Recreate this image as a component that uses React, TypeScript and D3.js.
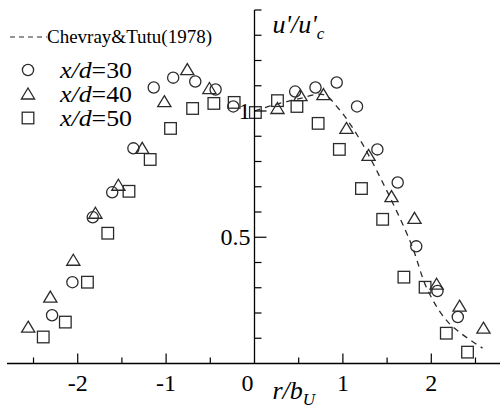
import React, { useEffect, useRef } from 'react';
import * as d3 from 'd3';

// r/b_U positions and u'/u'_c values
const X30 = [-2.29, -2.06, -1.83, -1.61, -1.37, -1.14, -0.92, -0.67, -0.44, -0.24, 0.46, 0.69, 0.93, 1.16, 1.39, 1.62, 1.83, 2.07, 2.3];
const Y30 = [0.191, 0.322, 0.579, 0.678, 0.852, 1.093, 1.132, 1.117, 1.085, 1.018, 1.077, 1.093, 1.113, 1.018, 0.848, 0.717, 0.464, 0.287, 0.184];

const X40 = [-2.56, -2.31, -2.05, -1.8, -1.54, -1.27, -1.02, -0.76, -0.51, 0.26, 0.52, 0.78, 1.04, 1.29, 1.55, 1.81, 2.06, 2.32, 2.59];
const Y40 = [0.144, 0.263, 0.409, 0.595, 0.706, 0.852, 1.037, 1.164, 1.089, 1.01, 1.061, 1.065, 0.931, 0.824, 0.661, 0.575, 0.314, 0.227, 0.14];

const X50 = [-2.39, -2.14, -1.89, -1.66, -1.42, -1.18, -0.95, -0.7, -0.46, -0.23, 0.01, 0.26, 0.48, 0.72, 0.96, 1.21, 1.45, 1.69, 1.93, 2.17, 2.41];
const Y50 = [0.105, 0.164, 0.322, 0.516, 0.682, 0.808, 0.931, 1.01, 1.03, 1.034, 0.994, 1.041, 1.018, 0.951, 0.848, 0.693, 0.571, 0.342, 0.302, 0.12, 0.045];

// Chevray & Tutu (1978) curve
const REF_X = [0, 0.18, 0.52, 0.78, 0.95, 1.17, 1.46, 1.77, 1.96, 2.2, 2.58];
const REF_Y = [1.0, 1.02, 1.05, 1.065, 1.01, 0.9, 0.71, 0.476, 0.29, 0.16, 0.061];

const X_MAJOR = [-2, -1, 0, 1, 2];
const X_MINOR = [-2.5, -1.5, -0.5, 0.5, 1.5, 2.5];
const Y_MAJOR = [0.5, 1];
const Y_MINOR = [0.1, 0.2, 0.3, 0.4, 0.6, 0.7, 0.8, 0.9, 1.1, 1.2, 1.3, 1.4];

const LEGEND_CASES = ['30', '40', '50'];
const MARKERS = ['circle', 'triangle', 'square'];

const WIDTH = 500;
const HEIGHT = 408;
const FONT = '"Liberation Serif", "Times New Roman", serif';
const INK = '#2b2b2b';

function zip(xs: number[], ys: number[])
{
    return xs.map((x, i) => [x, ys[i]] as [number, number]);
}

function drawMarker(g: any, kind: string, cx: number, cy: number)
{
    const common = (sel: any) => sel.attr('fill', 'none').attr('stroke', INK).attr('stroke-width', 1.3);
    if (kind === 'circle')
    {
        common(g.append('circle').attr('cx', cx).attr('cy', cy).attr('r', 5.6));
    }
    else if (kind === 'square')
    {
        common(g.append('rect').attr('x', cx - 5.8).attr('y', cy - 5.8).attr('width', 11.6).attr('height', 11.6));
    }
    else
    {
        const pts = [[cx, cy - 6], [cx + 6.6, cy + 5], [cx - 6.6, cy + 5]];
        common(g.append('polygon').attr('points', pts.map((p) => p.join(',')).join(' ')));
    }
}

function drawAxes(svg: any, x: any, y: any)
{
    const x0 = x(0);
    const y0 = y(0);

    svg.append('line').attr('x1', x(-2.8)).attr('x2', x(2.8)).attr('y1', y0).attr('y2', y0)
        .attr('stroke', '#000').attr('stroke-width', 1.3);
    svg.append('line').attr('x1', x0).attr('x2', x0).attr('y1', y0).attr('y2', y(1.4))
        .attr('stroke', '#000').attr('stroke-width', 1.3);

    X_MAJOR.filter((v) => v !== 0).forEach((v) =>
    {
        svg.append('line').attr('x1', x(v)).attr('x2', x(v)).attr('y1', y0).attr('y2', y0 - 10)
            .attr('stroke', '#000').attr('stroke-width', 1.2);
    });
    X_MINOR.forEach((v) =>
    {
        svg.append('line').attr('x1', x(v)).attr('x2', x(v)).attr('y1', y0).attr('y2', y0 - 6)
            .attr('stroke', '#000').attr('stroke-width', 1.2);
    });
    Y_MAJOR.forEach((v) =>
    {
        svg.append('line').attr('x1', x0).attr('x2', x0 + 12).attr('y1', y(v)).attr('y2', y(v))
            .attr('stroke', '#000').attr('stroke-width', 1.2);
    });
    Y_MINOR.forEach((v) =>
    {
        svg.append('line').attr('x1', x0).attr('x2', x0 + 7).attr('y1', y(v)).attr('y2', y(v))
            .attr('stroke', '#000').attr('stroke-width', 1.2);
    });

    X_MAJOR.forEach((v) =>
    {
        svg.append('text')
            .attr('x', x(v) + (v === 0 ? -7 : 0))
            .attr('y', y0 + 27)
            .attr('text-anchor', 'middle')
            .attr('font-family', FONT)
            .attr('font-size', 24)
            .attr('fill', '#000')
            .text(v < 0 ? `-${ Math.abs(v) }` : `${ v }`);
    });
    Y_MAJOR.forEach((v) =>
    {
        svg.append('text')
            .attr('x', x0 - 4)
            .attr('y', y(v) + 8)
            .attr('text-anchor', 'end')
            .attr('font-family', FONT)
            .attr('font-size', 24)
            .attr('fill', '#000')
            .text(v === 1 ? '1' : `${ v }`);
    });

    const yTitle = svg.append('text')
        .attr('x', x0 + 18)
        .attr('y', 33)
        .attr('font-family', FONT)
        .attr('font-style', 'italic')
        .attr('font-size', 26)
        .attr('fill', '#000');
    yTitle.append('tspan').text("u'/u'");
    yTitle.append('tspan').attr('font-size', 17).attr('dy', 6).text('c');

    const xTitle = svg.append('text')
        .attr('x', x0 + 18)
        .attr('y', 399)
        .attr('font-family', FONT)
        .attr('font-style', 'italic')
        .attr('font-size', 26)
        .attr('fill', '#000');
    xTitle.append('tspan').text('r/b');
    xTitle.append('tspan').attr('font-size', 17).attr('dy', 6).text('U');
}

function drawLegend(svg: any)
{
    svg.append('line').attr('x1', 10).attr('x2', 47).attr('y1', 37).attr('y2', 37)
        .attr('stroke', INK).attr('stroke-width', 1.2).attr('stroke-dasharray', '5,4');
    svg.append('text')
        .attr('x', 47)
        .attr('y', 43)
        .attr('font-family', FONT)
        .attr('font-size', 18)
        .attr('textLength', 165)
        .attr('lengthAdjust', 'spacingAndGlyphs')
        .attr('fill', '#000')
        .text('Chevray&Tutu(1978)');

    LEGEND_CASES.forEach((c, i) =>
    {
        const cy = 70 + i * 24;
        drawMarker(svg, MARKERS[i], 28, cy);
        const t = svg.append('text')
            .attr('x', 60)
            .attr('y', cy + 8)
            .attr('font-family', FONT)
            .attr('font-size', 24)
            .attr('textLength', 72)
            .attr('lengthAdjust', 'spacingAndGlyphs')
            .attr('fill', '#000');
        t.append('tspan').attr('font-style', 'italic').text('x/d');
        t.append('tspan').text(`=${ c }`);
    });
}

export default function App()
{
    const svgRef = useRef<SVGSVGElement | null>(null);

    useEffect(() =>
    {
        const svg = d3.select(svgRef.current);
        svg.selectAll('*').remove();

        const x = d3.scaleLinear().domain([-2.8, 2.8]).range([7, 502]);
        const y = d3.scaleLinear().domain([0, 1.4]).range([363.5, 10]);

        const line = d3.line<[number, number]>()
            .x((d) => x(d[0]))
            .y((d) => y(d[1]))
            .curve(d3.curveCatmullRom.alpha(0.5));

        svg.append('path')
            .datum(zip(REF_X, REF_Y))
            .attr('fill', 'none')
            .attr('stroke', INK)
            .attr('stroke-width', 1.3)
            .attr('stroke-dasharray', '6,5')
            .attr('d', line);

        const series = [zip(X30, Y30), zip(X40, Y40), zip(X50, Y50)];
        series.forEach((pts, i) =>
        {
            const g = svg.append('g');
            pts.forEach(([px, py]) => drawMarker(g, MARKERS[i], x(px), y(py)));
        });

        drawAxes(svg, x, y);
        drawLegend(svg);
    }, []);

    return (
        <svg
            ref={ svgRef }
            width={ WIDTH }
            height={ HEIGHT }
            style={ { position: 'absolute', left: 0, top: 0, background: '#fff' } }
        />
    );
}
